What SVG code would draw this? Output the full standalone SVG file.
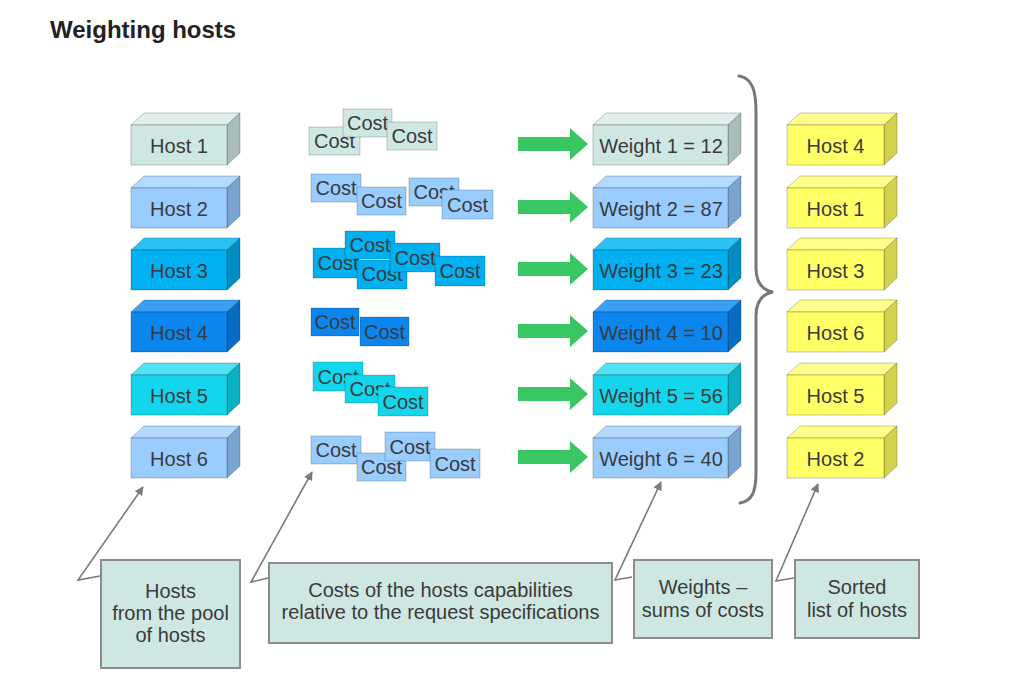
<svg xmlns="http://www.w3.org/2000/svg" width="1023" height="695" viewBox="0 0 1023 695">
<defs>
<style>
text{font-family:"Liberation Sans",Arial,sans-serif;font-size:20px;fill:#3a3a3a}
.lbl{text-anchor:middle}
.f{stroke:rgba(0,0,0,0.22);stroke-width:1}
.cost{stroke:rgba(0,0,0,0.2);stroke-width:1}
.c1{fill:#cfe7e2}.t1{fill:#dff0ec}.s1{fill:#a8bdb9}
.c2{fill:#99ccff}.t2{fill:#b3d9ff}.s2{fill:#79a4d0}
.c3{fill:#00b0f0}.t3{fill:#2cc1f5}.s3{fill:#008dc2}
.c4{fill:#0a86ee}.t4{fill:#3a9ff3}.s4{fill:#066cc4}
.c5{fill:#13d6ec}.t5{fill:#4fe3f3}.s5{fill:#0cb0c3}
.cy{fill:#ffff66}.ty{fill:#ffff8c}.sy{fill:#d2d24c}
.green{fill:#39c764}
.note{fill:#cfe7e2;stroke:#8c8c8c;stroke-width:2}
.conn{fill:none;stroke:#7a7a7a;stroke-width:1.6}
.brace{fill:none;stroke:#777;stroke-width:3;stroke-linecap:round}
</style>
<marker id="ah" viewBox="0 0 10 10" refX="9" refY="5" markerWidth="9" markerHeight="9" markerUnits="userSpaceOnUse" orient="auto">
<path d="M0,0 L10,5 L0,10 Z" fill="#7a7a7a"/>
</marker>
</defs>
<rect width="1023" height="695" fill="#ffffff"/>
<text x="50" y="38" style="font-weight:bold;font-size:24px;fill:#222">Weighting hosts</text>

<!-- Hosts from pool -->
<g id="host1"><polygon class="t1 f" points="131,125 144,113 240,113 227,125"/><polygon class="s1 f" points="227,125 240,113 240,153 227,165"/><rect class="c1 f" x="131" y="125" width="96" height="40"/><text class="lbl" x="179" y="153">Host 1</text></g>
<g id="host2"><polygon class="t2 f" points="131,188 144,176 240,176 227,188"/><polygon class="s2 f" points="227,188 240,176 240,216 227,228"/><rect class="c2 f" x="131" y="188" width="96" height="40"/><text class="lbl" x="179" y="216">Host 2</text></g>
<g id="host3"><polygon class="t3 f" points="131,250 144,238 240,238 227,250"/><polygon class="s3 f" points="227,250 240,238 240,278 227,290"/><rect class="c3 f" x="131" y="250" width="96" height="40"/><text class="lbl" x="179" y="278">Host 3</text></g>
<g id="host4"><polygon class="t4 f" points="131,312 144,300 240,300 227,312"/><polygon class="s4 f" points="227,312 240,300 240,340 227,352"/><rect class="c4 f" x="131" y="312" width="96" height="40"/><text class="lbl" x="179" y="340">Host 4</text></g>
<g id="host5"><polygon class="t5 f" points="131,375 144,363 240,363 227,375"/><polygon class="s5 f" points="227,375 240,363 240,403 227,415"/><rect class="c5 f" x="131" y="375" width="96" height="40"/><text class="lbl" x="179" y="403">Host 5</text></g>
<g id="host6"><polygon class="t2 f" points="131,438 144,426 240,426 227,438"/><polygon class="s2 f" points="227,438 240,426 240,466 227,478"/><rect class="c2 f" x="131" y="438" width="96" height="40"/><text class="lbl" x="179" y="466">Host 6</text></g>

<!-- Costs -->
<g id="costs1">
<rect class="c1 cost" x="309" y="127" width="51" height="28"/><text class="lbl" x="334.5" y="148">Cost</text>
<rect class="c1 cost" x="343" y="109" width="49" height="28"/><text class="lbl" x="367.5" y="130">Cost</text>
<rect class="c1 cost" x="387" y="122" width="50" height="28"/><text class="lbl" x="412" y="143">Cost</text>
</g>
<g id="costs2">
<rect class="c2 cost" x="311" y="174" width="50" height="28"/><text class="lbl" x="336" y="195">Cost</text>
<rect class="c2 cost" x="357" y="187" width="49" height="28"/><text class="lbl" x="381.5" y="208">Cost</text>
<rect class="c2 cost" x="409" y="178" width="50" height="28"/><text class="lbl" x="434" y="199">Cost</text>
<rect class="c2 cost" x="442" y="190" width="51" height="29"/><text class="lbl" x="467.5" y="212">Cost</text>
</g>
<g id="costs3">
<rect class="c3 cost" x="313" y="248" width="46" height="30"/><text class="lbl" x="338" y="270">Cost</text>
<rect class="c3 cost" x="345" y="231" width="50" height="28"/><text class="lbl" x="370" y="252">Cost</text>
<rect class="c3 cost" x="357" y="260" width="50" height="29"/><text class="lbl" x="382" y="281">Cost</text>
<rect class="c3 cost" x="390" y="243" width="50" height="29"/><text class="lbl" x="415" y="265">Cost</text>
<rect class="c3 cost" x="435" y="256" width="50" height="30"/><text class="lbl" x="460" y="278">Cost</text>
</g>
<g id="costs4">
<rect class="c4 cost" x="311" y="308" width="48" height="28"/><text class="lbl" x="335" y="329">Cost</text>
<rect class="c4 cost" x="360" y="317" width="49" height="29"/><text class="lbl" x="384.5" y="339">Cost</text>
</g>
<g id="costs5">
<rect class="c5 cost" x="313" y="362" width="50" height="29"/><text class="lbl" x="338" y="384">Cost</text>
<rect class="c5 cost" x="345" y="375" width="50" height="28"/><text class="lbl" x="370" y="396">Cost</text>
<rect class="c5 cost" x="378" y="387" width="50" height="29"/><text class="lbl" x="403" y="409">Cost</text>
</g>
<g id="costs6">
<rect class="c2 cost" x="311" y="436" width="50" height="28"/><text class="lbl" x="336" y="457">Cost</text>
<rect class="c2 cost" x="357" y="453" width="49" height="28"/><text class="lbl" x="381.5" y="474">Cost</text>
<rect class="c2 cost" x="385" y="432" width="50" height="29"/><text class="lbl" x="410" y="454">Cost</text>
<rect class="c2 cost" x="430" y="449" width="50" height="29"/><text class="lbl" x="455" y="471">Cost</text>
</g>

<!-- Green arrows -->
<g id="arrows">
<polygon class="green" points="518,137 570,137 570,128 588,144 570,160 570,151 518,151"/>
<polygon class="green" points="518,200 570,200 570,191 588,207 570,223 570,214 518,214"/>
<polygon class="green" points="518,262 570,262 570,253 588,269 570,285 570,276 518,276"/>
<polygon class="green" points="518,324 570,324 570,315 588,331 570,347 570,338 518,338"/>
<polygon class="green" points="518,387 570,387 570,378 588,394 570,410 570,401 518,401"/>
<polygon class="green" points="518,450 570,450 570,441 588,457 570,473 570,464 518,464"/>
</g>

<!-- Weights -->
<g id="weight1"><polygon class="t1 f" points="593,125 606,113 741,113 728,125"/><polygon class="s1 f" points="728,125 741,113 741,153 728,165"/><rect class="c1 f" x="593" y="125" width="135" height="40"/><text class="lbl" x="661" y="153">Weight 1 = 12</text></g>
<g id="weight2"><polygon class="t2 f" points="593,188 606,176 741,176 728,188"/><polygon class="s2 f" points="728,188 741,176 741,216 728,228"/><rect class="c2 f" x="593" y="188" width="135" height="40"/><text class="lbl" x="661" y="216">Weight 2 = 87</text></g>
<g id="weight3"><polygon class="t3 f" points="593,250 606,238 741,238 728,250"/><polygon class="s3 f" points="728,250 741,238 741,278 728,290"/><rect class="c3 f" x="593" y="250" width="135" height="40"/><text class="lbl" x="661" y="278">Weight 3 = 23</text></g>
<g id="weight4"><polygon class="t4 f" points="593,312 606,300 741,300 728,312"/><polygon class="s4 f" points="728,312 741,300 741,340 728,352"/><rect class="c4 f" x="593" y="312" width="135" height="40"/><text class="lbl" x="661" y="340">Weight 4 = 10</text></g>
<g id="weight5"><polygon class="t5 f" points="593,375 606,363 741,363 728,375"/><polygon class="s5 f" points="728,375 741,363 741,403 728,415"/><rect class="c5 f" x="593" y="375" width="135" height="40"/><text class="lbl" x="661" y="403">Weight 5 = 56</text></g>
<g id="weight6"><polygon class="t2 f" points="593,438 606,426 741,426 728,438"/><polygon class="s2 f" points="728,438 741,426 741,466 728,478"/><rect class="c2 f" x="593" y="438" width="135" height="40"/><text class="lbl" x="661" y="466">Weight 6 = 40</text></g>

<!-- Brace -->
<g id="brace"><path class="brace" d="M739,76 C752,78 756,90 756,112 L756,268 C756,283 762,290 773,292 C762,294 756,301 756,316 L756,472 C756,492 752,501 740,503"/></g>

<!-- Sorted hosts -->
<g id="sorted1"><polygon class="ty f" points="787,125 800,113 897,113 884,125"/><polygon class="sy f" points="884,125 897,113 897,153 884,165"/><rect class="cy f" x="787" y="125" width="97" height="40"/><text class="lbl" x="835.5" y="153">Host 4</text></g>
<g id="sorted2"><polygon class="ty f" points="787,188 800,176 897,176 884,188"/><polygon class="sy f" points="884,188 897,176 897,216 884,228"/><rect class="cy f" x="787" y="188" width="97" height="40"/><text class="lbl" x="835.5" y="216">Host 1</text></g>
<g id="sorted3"><polygon class="ty f" points="787,250 800,238 897,238 884,250"/><polygon class="sy f" points="884,250 897,238 897,278 884,290"/><rect class="cy f" x="787" y="250" width="97" height="40"/><text class="lbl" x="835.5" y="278">Host 3</text></g>
<g id="sorted4"><polygon class="ty f" points="787,312 800,300 897,300 884,312"/><polygon class="sy f" points="884,312 897,300 897,340 884,352"/><rect class="cy f" x="787" y="312" width="97" height="40"/><text class="lbl" x="835.5" y="340">Host 6</text></g>
<g id="sorted5"><polygon class="ty f" points="787,375 800,363 897,363 884,375"/><polygon class="sy f" points="884,375 897,363 897,403 884,415"/><rect class="cy f" x="787" y="375" width="97" height="40"/><text class="lbl" x="835.5" y="403">Host 5</text></g>
<g id="sorted6"><polygon class="ty f" points="787,438 800,426 897,426 884,438"/><polygon class="sy f" points="884,438 897,426 897,466 884,478"/><rect class="cy f" x="787" y="438" width="97" height="40"/><text class="lbl" x="835.5" y="466">Host 2</text></g>

<!-- Connectors -->
<g id="connectors">
<polyline class="conn" points="100,576 78,580 143,487" marker-end="url(#ah)"/>
<polyline class="conn" points="268,578 251,582 312,472" marker-end="url(#ah)"/>
<polyline class="conn" points="632,577 615,580 661,482" marker-end="url(#ah)"/>
<polyline class="conn" points="794,578 776,581 818,484" marker-end="url(#ah)"/>
</g>

<!-- Notes -->
<g id="note1"><rect class="note" x="101" y="560" width="139" height="108"/><text class="lbl" x="170.5" y="598">Hosts</text><text class="lbl" x="170.5" y="620">from the pool</text><text class="lbl" x="170.5" y="642">of hosts</text></g>
<g id="note2"><rect class="note" x="269" y="563" width="343" height="80"/><text class="lbl" x="440.5" y="597">Costs of the hosts capabilities</text><text class="lbl" x="440.5" y="619">relative to the request specifications</text></g>
<g id="note3"><rect class="note" x="634" y="560" width="138" height="78"/><text class="lbl" x="703" y="594">Weights –</text><text class="lbl" x="703" y="617">sums of costs</text></g>
<g id="note4"><rect class="note" x="795" y="560" width="124" height="78"/><text class="lbl" x="857" y="594">Sorted</text><text class="lbl" x="857" y="617">list of hosts</text></g>
</svg>
